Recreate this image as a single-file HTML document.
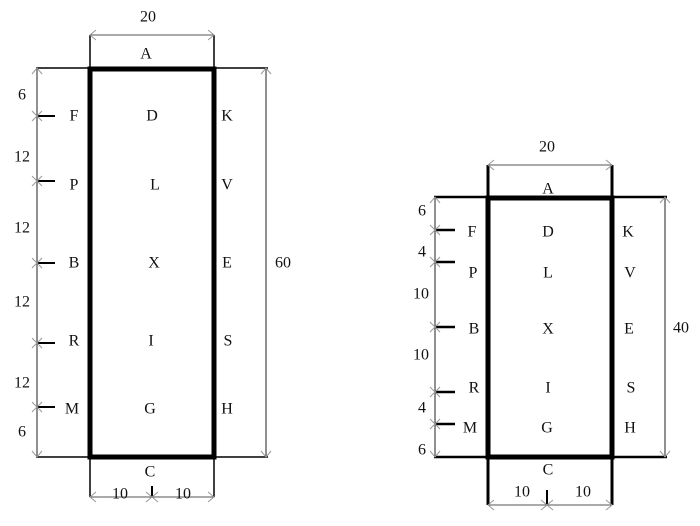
<!DOCTYPE html>
<html><head><meta charset="utf-8"><style>
html,body{margin:0;padding:0;background:#fff;}
svg{display:block;}
text{font-family:"Liberation Serif",serif;font-size:16px;fill:#111;text-anchor:middle;dominant-baseline:central;}
</style></head><body>
<svg width="700" height="526" viewBox="0 0 700 526" xmlns="http://www.w3.org/2000/svg">
<defs>
<g id="x"><path d="M-5,-5L5,5M-5,5L5,-5" stroke="#999" stroke-width="1" fill="none"/></g>
<g id="au"><path d="M-5,6L0,0L5,6" stroke="#999" stroke-width="1" fill="none"/></g>
<g id="ad"><path d="M-5,-6L0,0L5,-6" stroke="#999" stroke-width="1" fill="none"/></g>
<g id="al"><path d="M6,-5L0,0L6,5" stroke="#999" stroke-width="1" fill="none"/></g>
<g id="ar"><path d="M-6,-5L0,0L-6,5" stroke="#999" stroke-width="1" fill="none"/></g>
</defs>

<!-- LEFT FIGURE -->
<g stroke="#000" fill="none">
<line x1="36" y1="68" x2="268" y2="68" stroke-width="1.5"/>
<line x1="36" y1="457" x2="268" y2="457" stroke-width="1.5"/>
<line x1="37" y1="68" x2="37" y2="457" stroke="#555" stroke-width="1.3"/>
<line x1="266" y1="68" x2="266" y2="457" stroke="#555" stroke-width="1.3"/>
<line x1="90" y1="35" x2="90" y2="68" stroke-width="1.5"/>
<line x1="214" y1="35" x2="214" y2="68" stroke-width="1.5"/>
<line x1="90" y1="35" x2="214" y2="35" stroke="#555" stroke-width="1"/>
<line x1="90" y1="457" x2="90" y2="497" stroke-width="1.5"/>
<line x1="214" y1="457" x2="214" y2="497" stroke-width="1.5"/>
<line x1="90" y1="497" x2="214" y2="497" stroke="#555" stroke-width="1"/>
<line x1="152" y1="486" x2="152" y2="497" stroke-width="2"/>
<rect x="90" y="69" width="124" height="388" stroke-width="5"/>
<g stroke-width="2">
<line x1="37" y1="116" x2="55" y2="116"/>
<line x1="37" y1="181" x2="55" y2="181"/>
<line x1="37" y1="263" x2="55" y2="263"/>
<line x1="37" y1="343" x2="55" y2="343"/>
<line x1="37" y1="407" x2="55" y2="407"/>
</g>
</g>
<use href="#x" x="37" y="116"/><use href="#x" x="37" y="181"/><use href="#x" x="37" y="263"/><use href="#x" x="37" y="343"/><use href="#x" x="37" y="407"/>
<use href="#au" x="37" y="68"/><use href="#ad" x="37" y="457"/>
<use href="#au" x="266" y="68"/><use href="#ad" x="266" y="457"/>
<use href="#al" x="90" y="35"/><use href="#ar" x="214" y="35"/>
<use href="#al" x="90" y="497"/><use href="#ar" x="152" y="497"/><use href="#al" x="152" y="497"/><use href="#ar" x="214" y="497"/>

<text x="148" y="17">20</text>
<text x="146" y="54">A</text>
<text x="150" y="472">C</text>
<text x="120" y="494">10</text>
<text x="183" y="494">10</text>
<text x="283" y="263">60</text>
<text x="22" y="95">6</text>
<text x="22" y="157">12</text>
<text x="22" y="228">12</text>
<text x="22" y="302">12</text>
<text x="22" y="383">12</text>
<text x="22" y="432">6</text>
<text x="74" y="116">F</text><text x="152" y="116">D</text><text x="227" y="116">K</text>
<text x="74" y="185">P</text><text x="155" y="185">L</text><text x="227" y="185">V</text>
<text x="74" y="263">B</text><text x="154" y="263">X</text><text x="227" y="263">E</text>
<text x="74" y="341">R</text><text x="151" y="341">I</text><text x="228" y="341">S</text>
<text x="72" y="409">M</text><text x="150" y="409">G</text><text x="227" y="409">H</text>

<!-- RIGHT FIGURE -->
<g stroke="#000" fill="none">
<line x1="434" y1="197" x2="667" y2="197" stroke-width="2.5"/>
<line x1="434" y1="457" x2="667" y2="457" stroke-width="2.5"/>
<line x1="435" y1="197" x2="435" y2="457" stroke="#555" stroke-width="1.3"/>
<line x1="665" y1="197" x2="665" y2="457" stroke="#555" stroke-width="1.3"/>
<line x1="488" y1="165" x2="488" y2="197" stroke-width="3"/>
<line x1="612" y1="165" x2="612" y2="197" stroke-width="3"/>
<line x1="488" y1="165" x2="612" y2="165" stroke="#555" stroke-width="1"/>
<line x1="488" y1="457" x2="488" y2="505" stroke-width="3"/>
<line x1="612" y1="457" x2="612" y2="505" stroke-width="3"/>
<line x1="488" y1="505" x2="612" y2="505" stroke="#555" stroke-width="1"/>
<line x1="547" y1="490" x2="547" y2="505" stroke-width="2"/>
<rect x="488" y="198" width="124" height="259" stroke-width="5"/>
<g stroke-width="2.5">
<line x1="435" y1="230" x2="455" y2="230"/>
<line x1="435" y1="262" x2="455" y2="262"/>
<line x1="435" y1="327" x2="455" y2="327"/>
<line x1="435" y1="392" x2="455" y2="392"/>
<line x1="435" y1="424" x2="455" y2="424"/>
</g>
</g>
<use href="#x" x="435" y="230"/><use href="#x" x="435" y="262"/><use href="#x" x="435" y="327"/><use href="#x" x="435" y="392"/><use href="#x" x="435" y="424"/>
<use href="#au" x="435" y="197"/><use href="#ad" x="435" y="457"/>
<use href="#au" x="665" y="197"/><use href="#ad" x="665" y="457"/>
<use href="#al" x="488" y="165"/><use href="#ar" x="612" y="165"/>
<use href="#al" x="488" y="505"/><use href="#ar" x="547" y="505"/><use href="#al" x="547" y="505"/><use href="#ar" x="612" y="505"/>

<text x="547" y="147">20</text>
<text x="548" y="189">A</text>
<text x="548" y="470">C</text>
<text x="522" y="492">10</text>
<text x="583" y="492">10</text>
<text x="681" y="328">40</text>
<text x="422" y="211">6</text>
<text x="422" y="252">4</text>
<text x="421" y="294">10</text>
<text x="421" y="355">10</text>
<text x="422" y="408">4</text>
<text x="422" y="450">6</text>
<text x="472" y="232">F</text><text x="548" y="232">D</text><text x="628" y="232">K</text>
<text x="473" y="273">P</text><text x="548" y="273">L</text><text x="630" y="273">V</text>
<text x="474" y="329">B</text><text x="548" y="329">X</text><text x="629" y="329">E</text>
<text x="474" y="388">R</text><text x="548" y="388">I</text><text x="631" y="388">S</text>
<text x="470" y="428">M</text><text x="547" y="428">G</text><text x="630" y="428">H</text>
</svg>
</body></html>
